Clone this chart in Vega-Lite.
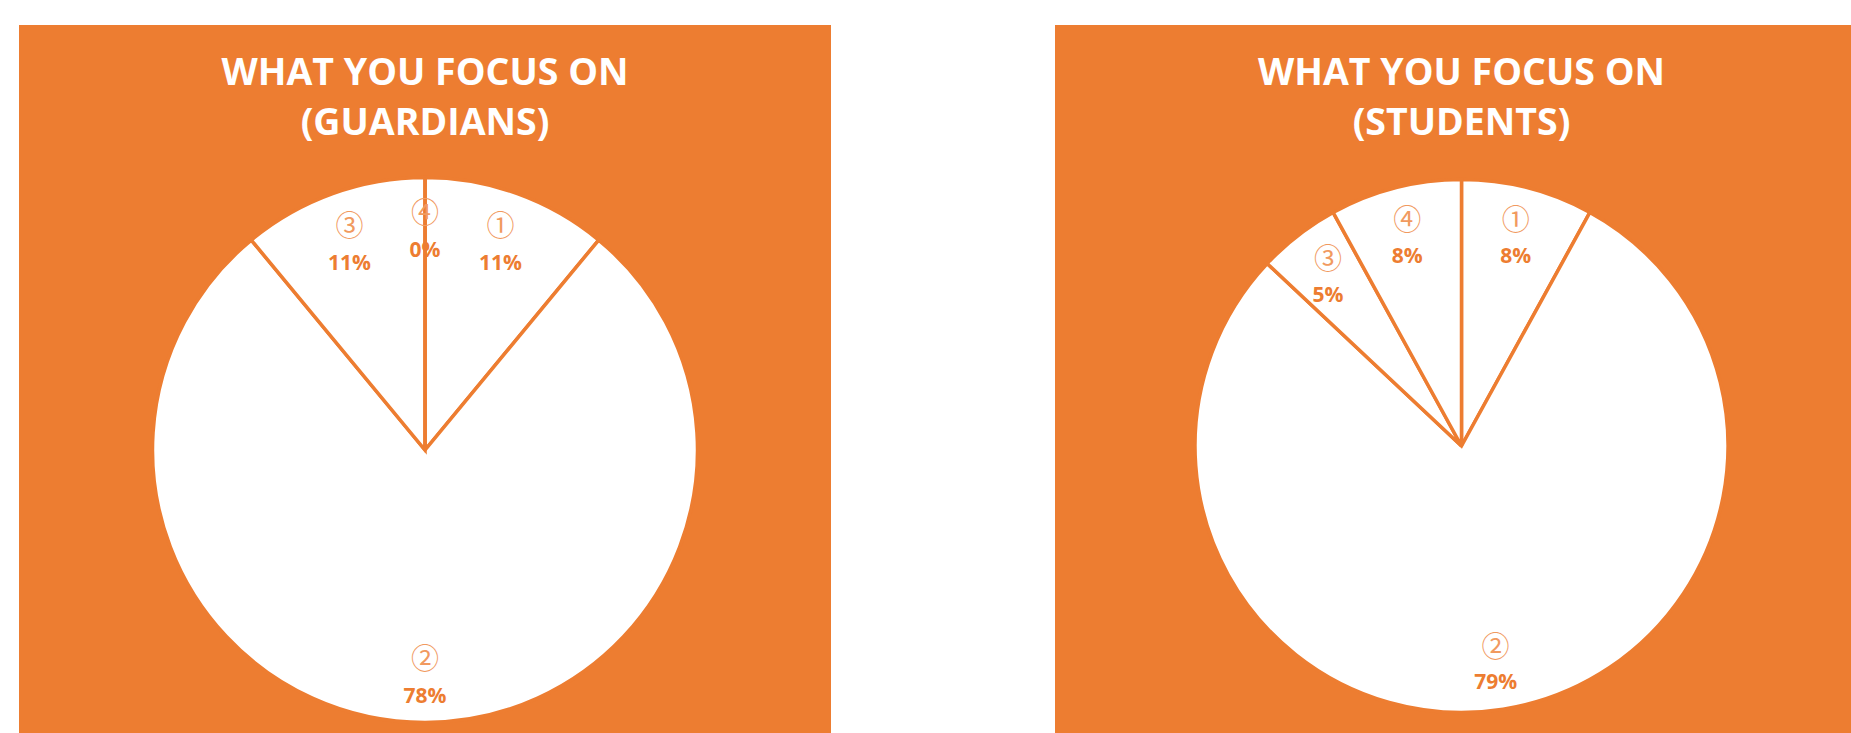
{
  "$schema": "https://vega.github.io/schema/vega-lite/v6.json",
  "padding": {"left": 19, "top": 25, "right": 0, "bottom": 0},
  "background": "white",
  "config": {
    "view": {"fill": "#ED7D31", "stroke": null},
    "concat": {"spacing": 224},
    "title": {"font": "Open Sans", "fontWeight": "bold", "fontSize": 37.5, "color": "white", "lineHeight": 50, "anchor": "middle", "frame": "group", "baseline": "top", "offset": -117.5}
  },
  "datasets": {
    "guardians": [
      {"k": 1, "num": "①", "value": 11, "pct": "11%"},
      {"k": 2, "num": "②", "value": 78, "pct": "78%"},
      {"k": 3, "num": "③", "value": 11, "pct": "11%"},
      {"k": 4, "num": "④", "value": 0, "pct": "0%"}
    ],
    "students": [
      {"k": 1, "num": "①", "value": 8, "pct": "8%"},
      {"k": 2, "num": "②", "value": 79, "pct": "79%"},
      {"k": 3, "num": "③", "value": 5, "pct": "5%"},
      {"k": 4, "num": "④", "value": 8, "pct": "8%"}
    ]
  },
  "hconcat": [
    {
      "width": 812,
      "height": 850,
      "view": {"fill": "#ED7D31", "stroke": null},
      "data": {"name": "guardians"},
      "title": {"text": ["WHAT YOU FOCUS ON", "(GUARDIANS)"]},
      "encoding": {
        "theta": {"field": "value", "type": "quantitative", "stack": true},
        "order": {"field": "k", "type": "quantitative"}
      },
      "layer": [
        {"mark": {"type": "arc", "outerRadius": 272.5, "fill": "white", "stroke": "#ED7D31", "strokeWidth": 3.5}},
        {"mark": {"type": "text", "radius": 223, "dy": -12.5, "font": "Noto Sans CJK JP", "fontSize": 28, "fill": "#F19A5F"}, "encoding": {"text": {"field": "num"}}},
        {"mark": {"type": "text", "radius": 223, "dy": 24, "font": "Open Sans", "fontWeight": "bold", "fontSize": 21, "fill": "#ED7D31"}, "encoding": {"text": {"field": "pct"}}}
      ]
    },
    {
      "width": 813,
      "height": 842,
      "view": {"fill": "#ED7D31", "stroke": null},
      "data": {"name": "students"},
      "title": {"text": ["WHAT YOU FOCUS ON", "(STUDENTS)"]},
      "encoding": {
        "theta": {"field": "value", "type": "quantitative", "stack": true},
        "order": {"field": "k", "type": "quantitative"}
      },
      "layer": [
        {"mark": {"type": "arc", "outerRadius": 266.5, "fill": "white", "stroke": "#ED7D31", "strokeWidth": 3.5}},
        {"mark": {"type": "text", "radius": 218, "dy": -12.5, "font": "Noto Sans CJK JP", "fontSize": 28, "fill": "#F19A5F"}, "encoding": {"text": {"field": "num"}}},
        {"mark": {"type": "text", "radius": 218, "dy": 22, "font": "Open Sans", "fontWeight": "bold", "fontSize": 21, "fill": "#ED7D31"}, "encoding": {"text": {"field": "pct"}}}
      ]
    }
  ]
}
